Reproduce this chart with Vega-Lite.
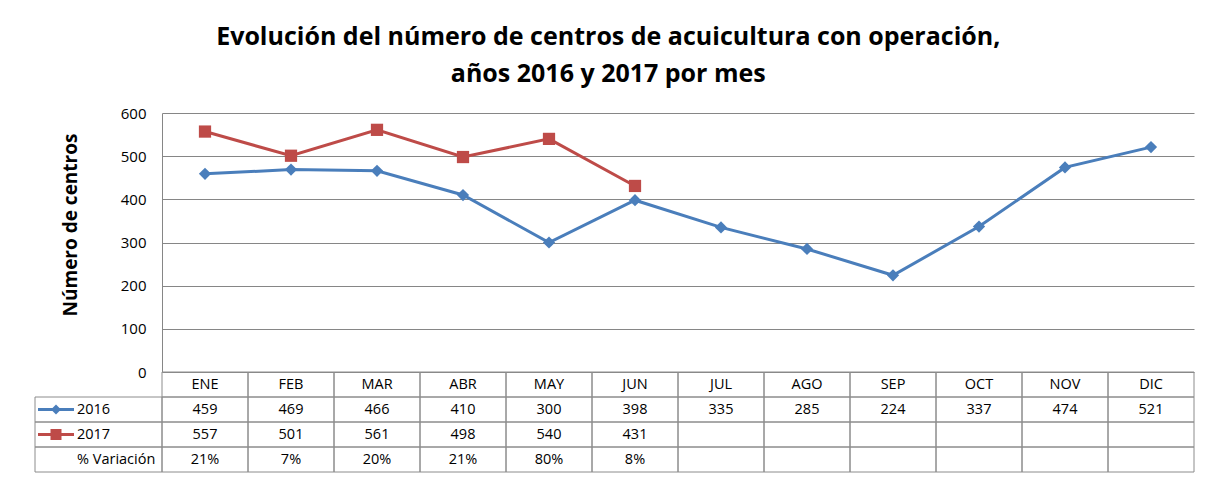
{
  "$schema": "https://vega.github.io/schema/vega-lite/v6.json",
  "padding": {"left": 32, "top": 25, "right": 14, "bottom": 5},
  "background": "white",
  "title": {
    "text": ["Evolución del número de centros de acuicultura con operación,", "años 2016 y 2017 por mes"],
    "font": "Open Sans",
    "fontSize": 25,
    "fontWeight": "bold",
    "lineHeight": 37,
    "anchor": "middle",
    "dx": -5,
    "offset": 19,
    "color": "#000000"
  },
  "datasets": {
    "meses": [
      {"mes": "ENE", "v2016": 459, "v2017": 557, "var": "21%"},
      {"mes": "FEB", "v2016": 469, "v2017": 501, "var": "7%"},
      {"mes": "MAR", "v2016": 466, "v2017": 561, "var": "20%"},
      {"mes": "ABR", "v2016": 410, "v2017": 498, "var": "21%"},
      {"mes": "MAY", "v2016": 300, "v2017": 540, "var": "80%"},
      {"mes": "JUN", "v2016": 398, "v2017": 431, "var": "8%"},
      {"mes": "JUL", "v2016": 335},
      {"mes": "AGO", "v2016": 285},
      {"mes": "SEP", "v2016": 224},
      {"mes": "OCT", "v2016": 337},
      {"mes": "NOV", "v2016": 474},
      {"mes": "DIC", "v2016": 521}
    ],
    "etiquetas": [
      {"fila": "v2016", "etiqueta": "2016"},
      {"fila": "v2017", "etiqueta": "2017"},
      {"fila": "var", "etiqueta": "% Variación"}
    ]
  },
  "config": {"view": {"stroke": null}, "font": "Open Sans"},
  "spacing": 0,
  "bounds": "flush",
  "columns": 2,
  "concat": [
    {"width": 127, "height": 259, "data": {"values": []}, "mark": "point"},
    {
      "width": 1032,
      "height": 259,
      "data": {"name": "meses"},
      "transform": [
        {"fold": ["v2016", "v2017"], "as": ["serie", "valor"]},
        {"filter": "isValid(datum.valor)"}
      ],
      "encoding": {
        "x": {
          "field": "mes",
          "type": "nominal",
          "scale": {"type": "point", "padding": 0.5, "domain": ["ENE","FEB","MAR","ABR","MAY","JUN","JUL","AGO","SEP","OCT","NOV","DIC"]},
          "axis": null
        },
        "y": {
          "field": "valor",
          "type": "quantitative",
          "scale": {"domain": [0, 600], "nice": false},
          "axis": {
            "values": [0, 100, 200, 300, 400, 500, 600],
            "title": "Número de centros",
            "titleFont": "Open Sans",
            "titleFontSize": 19,
            "titleFontWeight": "bold",
            "titleColor": "#000000",
            "titlePadding": 40,
            "titleY": 111.5,
            "labelFont": "Open Sans",
            "labelFontSize": 15,
            "labelColor": "#000000",
            "labelPadding": 16,
            "ticks": false,
            "tickSize": 0,
            "domainColor": "#868686",
            "grid": true,
            "gridColor": "#868686",
            "gridOpacity": 1
          }
        },
        "color": {
          "field": "serie",
          "type": "nominal",
          "scale": {"domain": ["v2016", "v2017"], "range": ["#4A7EBB", "#BE4B48"]},
          "legend": null
        }
      },
      "layer": [
        {"mark": {"type": "line", "strokeWidth": 3}},
        {
          "mark": {"type": "point", "filled": true, "opacity": 1, "size": 150},
          "encoding": {
            "shape": {
              "field": "serie",
              "type": "nominal",
              "scale": {"domain": ["v2016", "v2017"], "range": ["diamond", "square"]},
              "legend": null
            }
          }
        }
      ]
    },
    {
      "width": 127,
      "height": 100,
      "data": {"name": "etiquetas"},
      "encoding": {
        "y": {
          "field": "fila",
          "type": "nominal",
          "scale": {"domain": ["mes", "v2016", "v2017", "var"], "paddingInner": 0, "paddingOuter": 0},
          "axis": null
        }
      },
      "layer": [
        {"mark": {"type": "rect", "fill": "transparent", "stroke": "#8C8C8C", "strokeWidth": 1}},
        {
          "mark": {"type": "text", "align": "left", "dx": -21.5, "fontSize": 14.5, "font": "Open Sans", "color": "#000000"},
          "encoding": {"text": {"field": "etiqueta", "type": "nominal"}}
        },
        {
          "transform": [{"filter": "datum.fila == 'v2016'"}],
          "mark": {"type": "point", "shape": "M-12.1,0L-4.9,0", "size": 100, "strokeWidth": 3, "filled": false, "opacity": 1, "color": "#4A7EBB"}
        },
        {
          "transform": [{"filter": "datum.fila == 'v2016'"}],
          "mark": {"type": "point", "shape": "M-9.5,0L-8.5,-1L-7.5,0L-8.5,1Z", "size": 100, "filled": true, "opacity": 1, "color": "#4A7EBB"}
        },
        {
          "transform": [{"filter": "datum.fila == 'v2017'"}],
          "mark": {"type": "point", "shape": "M-12.1,0L-4.9,0", "size": 100, "strokeWidth": 3, "filled": false, "opacity": 1, "color": "#BE4B48"}
        },
        {
          "transform": [{"filter": "datum.fila == 'v2017'"}],
          "mark": {"type": "point", "shape": "M-9.6,-1.1L-7.4,-1.1L-7.4,1.1L-9.6,1.1Z", "size": 100, "filled": true, "opacity": 1, "color": "#BE4B48"}
        }
      ]
    },
    {
      "width": 1032,
      "height": 100,
      "data": {"name": "meses"},
      "transform": [{"fold": ["mes", "v2016", "v2017", "var"], "as": ["fila", "valor"]}],
      "encoding": {
        "x": {
          "field": "mes",
          "type": "nominal",
          "scale": {"domain": ["ENE","FEB","MAR","ABR","MAY","JUN","JUL","AGO","SEP","OCT","NOV","DIC"], "paddingInner": 0, "paddingOuter": 0},
          "axis": null
        },
        "y": {
          "field": "fila",
          "type": "nominal",
          "scale": {"domain": ["mes", "v2016", "v2017", "var"], "paddingInner": 0, "paddingOuter": 0},
          "axis": null
        }
      },
      "layer": [
        {"mark": {"type": "rect", "fill": "transparent", "stroke": "#8C8C8C", "strokeWidth": 1}},
        {
          "transform": [{"filter": "isValid(datum.valor)"}],
          "mark": {"type": "text", "fontSize": 14.5, "font": "Open Sans", "color": "#000000"},
          "encoding": {"text": {"field": "valor", "type": "nominal"}}
        }
      ]
    }
  ]
}
